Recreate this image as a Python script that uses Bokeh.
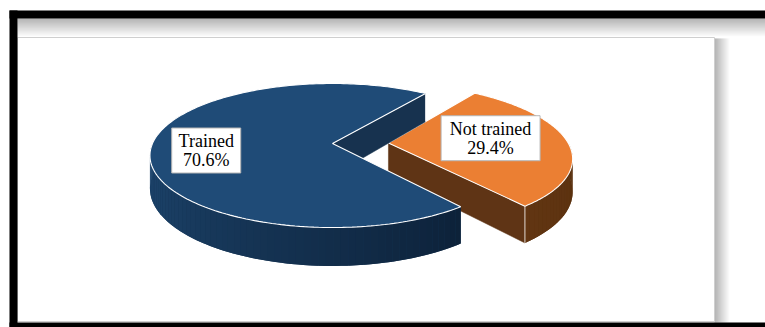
import math
from bokeh.plotting import figure
from bokeh.models import Range1d, ColumnDataSource
from bokeh.core.properties import value
from bokeh.embed import file_html
from bokeh.resources import INLINE

# ---- data ----
categories = ["Trained", "Not trained"]
percent = [70.6, 29.4]
explode_px = [0, 56]
top_colors = ["#1F4B77", "#EB7F33"]
face_colors = ["#17324F", "#5F3415"]
wall_left = ["#1E4872", "#7A4319"]
wall_right = ["#061222", "#58300F"]
label_r = [0.70, 0.57]
label_dy = [6, -4]
label_w = [69, 99]

# ---- layout / style constants ----
CX, CY = 332.0, 143.0
R = 180.0
T = 0.389
P = 0.1667
H = 32.0
START = 54.1

W, HT = 765, 327
p = figure(width=W, height=HT, x_range=Range1d(0, W), y_range=Range1d(HT, 0),
           output_backend="svg", toolbar_location=None, min_border=0,
           x_axis_type=None, y_axis_type=None)
p.grid.visible = False
p.outline_line_color = None
p.background_fill_color = "white"
p.border_fill_color = "white"


def hex2rgb(h):
    h = h.lstrip("#")
    return tuple(int(h[i:i + 2], 16) for i in (0, 2, 4))


def lerp(c1, c2, f):
    a, b = hex2rgb(c1), hex2rgb(c2)
    return "#%02x%02x%02x" % tuple(int(round(a[i] + (b[i] - a[i]) * f)) for i in range(3))


def proj(X, Z, drop=0.0):
    w = 1 + P * Z / R
    return CX + X / w, CY - T * Z / w + drop / w


# ---- frame ----
n = 19
for i in range(n):
    p.quad(left=[17], right=[765], top=[18 + i], bottom=[19 + i],
           fill_color=lerp("#9c9c9c", "#ffffff", i / (n - 1)), line_color=None)
m = 16
for i in range(m):
    p.quad(left=[714 + i], right=[715 + i], top=[38], bottom=[322],
           fill_color=lerp("#9a9a9a", "#ffffff", i / (m - 1)), line_color=None)
p.quad(left=[17], right=[714], top=[37], bottom=[321], fill_color="white",
       line_color="#cfcfcf", line_width=1)
p.quad(left=[9], right=[765], top=[10], bottom=[18], fill_color="black", line_color=None)
p.quad(left=[9], right=[17], top=[10], bottom=[327], fill_color="black", line_color=None)
p.quad(left=[9], right=[765], top=[322], bottom=[327], fill_color="black", line_color=None)

# ---- pie slices ----
total = sum(percent)
angles = []
a = START
for v in percent:
    span = 360.0 * v / total
    angles.append((a, a + span))
    a += span

slices = []
for i, (a0, a1) in enumerate(angles):
    mid = math.radians((a0 + a1) / 2)
    ox = explode_px[i] * math.cos(mid)
    oz = explode_px[i] * math.sin(mid)
    slices.append((i, a0, a1, ox, oz))


def rim(ox, oz, tt, dd=0.0):
    r = math.radians(tt)
    return proj(ox + R * math.cos(r), oz + R * math.sin(r), dd)


order = sorted(slices, key=lambda s: -explode_px[s[0]])
for i, a0, a1, ox, oz in order:
    # outer wall: front half only
    lo = a0
    hi = a1
    # visible front arc within the slice (angles mod 360 in [180, 360])
    segs = []
    steps = max(2, int(abs(a1 - a0) / 2))
    ths = [a0 + (a1 - a0) * k / steps for k in range(steps + 1)]
    front = [(ths[k], ths[k + 1]) for k in range(steps)
             if 180 <= ((ths[k] + ths[k + 1]) / 2) % 360 <= 360]
    if front:
        f0, f1 = front[0][0], front[-1][1]
        # base single patch
        arc = [f0 + (f1 - f0) * k / 100 for k in range(101)]
        topp = [rim(ox, oz, tt) for tt in arc]
        botp = [rim(ox, oz, tt, H) for tt in reversed(arc)]
        mid_c = lerp(wall_left[i], wall_right[i], ((f0 + f1) / 2 % 360 - 180) / 180)
        p.patch(x=[q[0] for q in topp + botp], y=[q[1] for q in topp + botp],
                fill_color=mid_c, line_color=None)
        xs_w, ys_w, cols = [], [], []
        for t0, t1 in front:
            pts = [rim(ox, oz, t0), rim(ox, oz, t1), rim(ox, oz, t1, H), rim(ox, oz, t0, H)]
            xs_w.append([q[0] for q in pts])
            ys_w.append([q[1] for q in pts])
            tm = ((t0 + t1) / 2) % 360
            cols.append(lerp(wall_left[i], wall_right[i], (tm - 180) / 180))
        p.patches(xs=xs_w, ys=ys_w, fill_color=cols, line_color=None)
    # radial side faces
    for ang, sign in ((a0, 1), (a1, -1)):
        r = math.radians(ang)
        visible = (math.cos(r) > 0) if sign == 1 else (math.cos(r) < 0)
        if not visible:
            continue
        c_top = proj(ox, oz)
        c_bot = proj(ox, oz, H)
        e_top = rim(ox, oz, ang)
        e_bot = rim(ox, oz, ang, H)
        p.patch(x=[c_top[0], e_top[0], e_bot[0], c_bot[0]],
                y=[c_top[1], e_top[1], e_bot[1], c_bot[1]],
                fill_color=face_colors[i], line_color=face_colors[i], line_width=0.5)
        p.line(x=[e_top[0], e_bot[0]], y=[e_top[1], e_bot[1]],
               line_color="white", line_width=1, line_alpha=0.8)
    # top face
    steps = 200
    ths = [a0 + (a1 - a0) * k / steps for k in range(steps + 1)]
    c = proj(ox, oz)
    pts = [c] + [rim(ox, oz, tt) for tt in ths]
    p.patch(x=[q[0] for q in pts], y=[q[1] for q in pts], fill_color=top_colors[i],
            line_color="white", line_width=1.1)

# ---- labels ----
bx, by, bw, l1y, l2y, t1, t2 = [], [], [], [], [], [], []
for i, a0, a1, ox, oz in slices:
    mid = math.radians((a0 + a1) / 2)
    q = proj(ox + label_r[i] * R * math.cos(mid), oz + label_r[i] * R * math.sin(mid))
    x, y = q[0], q[1] + label_dy[i]
    bx.append(x)
    by.append(y)
    bw.append(label_w[i])
    l1y.append(y - 9.5)
    l2y.append(y + 9.5)
    t1.append(categories[i])
    t2.append("%.1f%%" % percent[i])

src = ColumnDataSource(dict(x=bx, y=by, w=bw, y1=l1y, y2=l2y, t1=t1, t2=t2))
p.rect(x="x", y="y", width="w", height=45, source=src, fill_color="white",
       line_color="#b5b5b5", line_width=1)
for col, yc in (("t1", "y1"), ("t2", "y2")):
    p.text(x="x", y=yc, text=col, source=src, text_align="center", text_baseline="middle",
           text_font=value("Liberation Serif"), text_font_size="18px", text_color="black")

open("out.html", "w").write(file_html(p, INLINE))
